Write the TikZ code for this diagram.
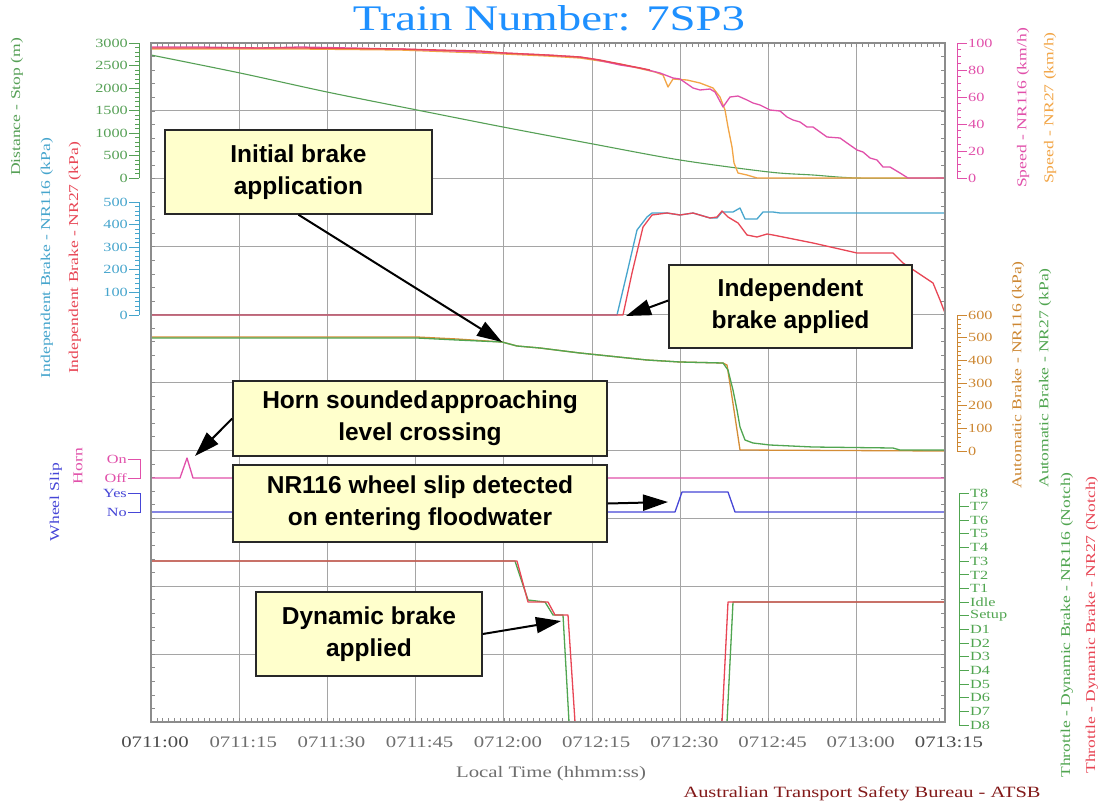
\documentclass[tikz,border=0pt]{standalone}
\usepackage{fontspec}
\setmainfont{Liberation Serif}
\newfontfamily\chartfont[FakeStretch=1.3]{Liberation Serif}
\newfontfamily\callfont{Liberation Sans}
\usetikzlibrary{arrows.meta}
\definecolor{cDist}{RGB}{86,160,86}
\definecolor{cGreen}{RGB}{80,165,80}
\definecolor{cBlue}{RGB}{70,165,205}
\definecolor{cRed}{RGB}{232,70,85}
\definecolor{cPink}{RGB}{225,80,170}
\definecolor{cOrange}{RGB}{242,165,70}
\definecolor{cBrown}{RGB}{205,135,50}
\definecolor{cSlip}{RGB}{70,70,215}
\definecolor{cTitle}{RGB}{30,144,255}
\definecolor{cATSB}{RGB}{130,25,25}
\definecolor{cBox}{RGB}{255,255,204}
\definecolor{cGrid}{RGB}{165,165,165}
\definecolor{cFrame}{RGB}{140,140,140}
\definecolor{cAxText}{RGB}{110,110,110}
\definecolor{cAxDark}{RGB}{75,75,75}
\tikzset{
  gridln/.style={draw=cGrid, line width=1pt},
  frameln/.style={draw=cFrame, line width=1.2pt},
  tickln/.style={draw=cFrame, line width=0.7pt},
  dataln/.style={line width=1.3pt, line join=round},
  ticklab/.style={font=\chartfont\fontsize{12.5}{12.5}\selectfont, inner sep=1pt},
  axlab/.style={font=\chartfont\fontsize{13.5}{13.5}\selectfont, rotate=90, inner sep=0pt},
  xlab/.style={font=\chartfont\fontsize{16}{16}\selectfont, text=cAxText, anchor=base, inner sep=0pt},
  callout/.style={draw={rgb,255:red,40;green,40;blue,40}, fill=cBox, line width=1.5pt, align=center,
     font=\callfont\bfseries\fontsize{24.5}{32}\selectfont, inner sep=0pt},
  callarrow/.style={line width=2pt, -{Triangle[length=25pt,width=16pt]}},
}
\begin{document}
\begin{tikzpicture}[x=1pt,y=-1pt]
\useasboundingbox[fill=white] (0,0) rectangle (1099,803);

% title
\node[font=\chartfont\fontsize{36}{36}\selectfont, text=cTitle, anchor=base, inner sep=0pt] (title) at (549,30) {Train Number: 7SP3};

% grid
\foreach \i in {1,...,8} { \draw[gridln] ({151+\i*88.222},43) -- ({151+\i*88.222},722); }
\foreach \j in {1,...,9} { \draw[gridln] (151,{43+\j*67.9}) -- (945,{43+\j*67.9}); }
% frame ticks
\foreach \k in {1,...,134} {
  \draw[tickln] ({151+\k*5.8815},43) -- ++(0,4);
  \draw[tickln] ({151+\k*5.8815},722) -- ++(0,-4);
}
\foreach \k in {1,...,49} {
  \draw[tickln] (151,{43+\k*13.58}) -- ++(4,0);
  \draw[tickln] (945,{43+\k*13.58}) -- ++(-4,0);
}

% ---------- data ----------
% distance
\draw[dataln, cDist, line width=1.1pt] plot[smooth] coordinates {(151,55) (240,73) (327,92) (417,110) (503,127) (593,144) (680,160) (769,172) (813,175) (858,178) (945,178)};
% speed NR27
\draw[dataln, cOrange] plot coordinates {(151,49) (300,49) (400,50) (480,53) (504,54) (547,56) (580,58) (620,64) (655,72) (663,75) (668,87) (673,79) (687,80) (700,83) (713,88) (720,97) (725,110) (728,127) (732,147) (734,163) (738,173) (747,175) (757,178) (945,178)};
% speed NR116
\draw[dataln, cPink] plot coordinates {(151,47) (200,47) (260,48) (300,47) (400,49) (480,52) (504,53) (547,55) (580,57) (593,59) (620,65) (640,68) (660,73) (673,78) (680,79) (693,88) (700,90) (710,89) (715,92) (723,107) (730,97) (738,96) (747,100) (753,103) (760,105) (770,110) (780,111) (787,117) (793,120) (800,122) (807,127) (813,127) (820,132) (827,137) (840,138) (847,143) (857,150) (863,152) (870,158) (877,160) (883,167) (890,167) (900,173) (908,178) (945,178)};
\draw[dataln, cRed] plot coordinates {(151,48) (300,48) (400,49) (480,51) (504,53) (547,55) (580,57) (600,60) (630,66) (650,70)};

% independent brake
\draw[dataln, cBlue] plot coordinates {(151,315) (617,315) (627,273) (637,230) (647,217) (652,213) (667,213) (680,215) (693,213) (710,218) (717,218) (722,212) (733,212) (740,208) (745,219) (757,219) (763,212) (773,212) (780,213) (945,213)};
\draw[dataln, cRed] plot coordinates {(151,315) (623,315) (632,273) (643,227) (652,215) (667,213) (680,215) (693,213) (710,218) (717,217) (722,211) (728,217) (738,223) (747,235) (757,237) (767,234) (773,235) (813,243) (857,253) (893,253) (903,263) (933,283) (940,300) (945,313)};

% automatic brake
\draw[dataln, cBrown!80!cOrange] plot coordinates {(151,337) (417,337) (457,339) (502,342) (517,346) (540,348) (580,353) (647,360) (680,362) (723,363) (727,365) (732,397) (737,430) (740,450) (945,451)};
\draw[dataln, cGreen] plot coordinates {(151,338) (417,338) (457,340) (502,342) (517,346) (540,348) (580,353) (647,360) (680,362) (723,363) (728,370) (733,390) (737,410) (740,427) (745,440) (753,443) (770,445) (813,447) (893,448) (900,450) (945,450)};

% horn
\draw[dataln, cPink] plot coordinates {(151,478) (180,478) (187,458) (193,478) (945,478)};
% wheel slip
\draw[dataln, cSlip] plot coordinates {(151,512) (675,512) (682,492) (728,492) (735,512) (945,512)};

% throttle
\draw[dataln, cGreen] plot coordinates {(151,561) (515,561) (528,600) (545,602) (553,615) (563,615) (569,722)};
\draw[dataln, cGreen] plot coordinates {(727,722) (733,602) (945,602)};
\draw[dataln, cRed] plot coordinates {(151,561) (517,561) (528,602) (548,602) (555,615) (568,615) (575,722)};
\draw[dataln, cRed] plot coordinates {(722,722) (728,602) (945,602)};

% frame
\draw[frameln] (151,43) rectangle (945,722);

% ---------- left axes ----------
\draw[cDist, line width=1pt] (139,43) -- (139,178);
\foreach \k in {0,...,30} { \draw[cDist, line width=0.7pt] (135,{178-\k*4.5}) -- (139,{178-\k*4.5}); }
\foreach \v [count=\k from 0] in {0,500,...,3000} {
  \draw[cDist, line width=1pt] (129,{178-\k*22.5}) -- (139,{178-\k*22.5});
  \node[ticklab, text=cDist, anchor=east] (dl\k) at (129,{178-\k*22.5}) {\v};
}
\draw[cBlue, line width=1pt] (139,202) -- (139,315);
\foreach \k in {0,...,25} { \draw[cBlue, line width=0.7pt] (135,{315-\k*4.52}) -- (139,{315-\k*4.52}); }
\foreach \v [count=\k from 0] in {0,100,...,500} {
  \draw[cBlue, line width=1pt] (129,{315-\k*22.6}) -- (139,{315-\k*22.6});
  \node[ticklab, text=cBlue, anchor=east] (il\k) at (129,{315-\k*22.6}) {\v};
}
% horn / wheel slip brackets
\draw[cPink, line width=1pt] (128,459) -- (140,459) -- (140,478) -- (128,478);
\node[ticklab, text=cPink, anchor=east] (hon) at (128,459) {On};
\node[ticklab, text=cPink, anchor=east] (hoff) at (128,478) {Off};
\draw[cSlip, line width=1pt] (128,493) -- (140,493) -- (140,512) -- (128,512);
\node[ticklab, text=cSlip, anchor=east] (wyes) at (128,493) {Yes};
\node[ticklab, text=cSlip, anchor=east] (wno) at (128,512) {No};

\node[axlab, text=cDist] (ldist) at (17,107) {Distance - Stop (m)};
\node[axlab, text=cBlue] (lib1) at (47,258) {Independent Brake - NR116 (kPa)};
\node[axlab, text=cRed] (lib2) at (75,258) {Independent Brake - NR27 (kPa)};
\node[axlab, text=cPink] (lhorn) at (78,466) {Horn};
\node[axlab, text=cSlip] (lslip) at (56,502) {Wheel Slip};

% ---------- right axes ----------
\draw[cPink, line width=1pt] (957,43) -- (957,178);
\foreach \k in {0,...,20} { \draw[cPink, line width=0.7pt] (957,{178-\k*6.75}) -- (961,{178-\k*6.75}); }
\foreach \v [count=\k from 0] in {0,20,...,100} {
  \draw[cPink, line width=1pt] (957,{178-\k*27}) -- (967,{178-\k*27});
  \node[ticklab, text=cPink, anchor=west] (sl\k) at (967,{178-\k*27}) {\v};
}
\draw[cBrown, line width=1pt] (957,315) -- (957,451);
\foreach \k in {0,...,30} { \draw[cBrown, line width=0.7pt] (957,{451-\k*4.533}) -- (961,{451-\k*4.533}); }
\foreach \v [count=\k from 0] in {0,100,...,600} {
  \draw[cBrown, line width=1pt] (957,{451-\k*22.667}) -- (967,{451-\k*22.667});
  \node[ticklab, text=cBrown, anchor=west] (al\k) at (967,{451-\k*22.667}) {\v};
}
\draw[cGreen, line width=1pt] (959,493) -- (959,725);
\foreach \t [count=\k from 0] in {T8,T7,T6,T5,T4,T3,T2,T1,Idle,Setup,D1,D2,D3,D4,D5,D6,D7,D8} {
  \draw[cGreen, line width=1pt] (959,{493+\k*13.647}) -- (969,{493+\k*13.647});
  \node[ticklab, text=cGreen, anchor=west] (tl\k) at (969,{493+\k*13.647}) {\t};
}
\node[axlab, text=cPink] (lsp1) at (1023,108) {Speed - NR116 (km/h)};
\node[axlab, text=cOrange] (lsp2) at (1050,108) {Speed - NR27 (km/h)};
\node[axlab, text=cBrown] (lab1) at (1018,375) {Automatic Brake - NR116 (kPa)};
\node[axlab, text=cGreen] (lab2) at (1045,378) {Automatic Brake - NR27 (kPa)};
\node[axlab, text=cGreen] (lth1) at (1067,625) {Throttle - Dynamic Brake - NR116 (Notch)};
\node[axlab, text=cRed] (lth2) at (1092,625) {Throttle - Dynamic Brake - NR27 (Notch)};

% ---------- x axis ----------
\foreach \t [count=\k from 1] in {0711:15,0711:30,0711:45,0712:00,0712:15,0712:30,0712:45,0713:00} {
  \node[xlab] (xl\k) at ({155+\k*88.222},747) {\t};
}
\node[xlab, text=cAxDark] (xl0) at (155,747) {0711:00};
\node[xlab, text=cAxDark] (xl9) at ({155+9*88.222},747) {0713:15};
\node[font=\chartfont\fontsize{16}{16}\selectfont, text=cAxText, anchor=base, inner sep=0pt] (xtitle) at (551,777) {Local Time (hhmm:ss)};
\node[font=\chartfont\fontsize{15.7}{16}\selectfont, text=cATSB, anchor=base, inner sep=0pt] (atsb) at (862,797) {Australian Transport Safety Bureau - ATSB};

% ---------- callouts ----------
\node[callout, minimum width=267pt, minimum height=84pt] (c1) at (298.5,172) {Initial brake\\application};
\node[callout, minimum width=243pt, minimum height=83pt] (c2) at (790.5,306.5) {Independent\\brake applied};
\node[callout, minimum width=374pt, minimum height=75pt] (c3) at (420,418.5) {Horn sounded\hspace{0.1em}approaching\\level crossing};
\node[callout, minimum width=374pt, minimum height=77pt] (c4) at (420,503.5) {NR116 wheel slip detected\\on entering floodwater};
\node[callout, minimum width=226pt, minimum height=84pt] (c5) at (369,634) {Dynamic brake\\applied};

\coordinate (t1) at (502,342);
\coordinate (t2) at (626,316);
\coordinate (t3) at (195,456);
\coordinate (t4) at (668,502);
\coordinate (t5) at (561,621);
\draw[callarrow] (c1.south) -- (t1);
\draw[callarrow] ([yshift=6pt]c2.west) -- (t2);
\draw[callarrow] (c3.west) -- (t3);
\draw[callarrow] (c4.east) -- (t4);
\draw[callarrow] (c5.east) -- (t5);
\end{tikzpicture}
\end{document}
